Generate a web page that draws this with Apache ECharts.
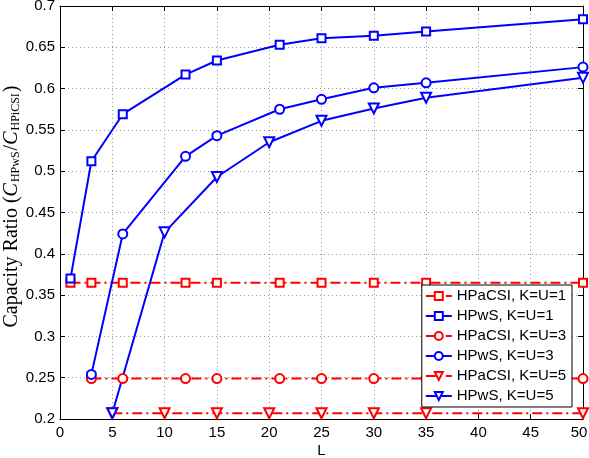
<!DOCTYPE html>
<html>
<head>
<meta charset="utf-8">
<script src="https://cdn.jsdelivr.net/npm/echarts@6/dist/echarts.min.js"></script>
<style>html,body{margin:0;padding:0;background:#fff;}#c{width:589px;height:458px;}</style>
</head>
<body>
<div id="c"></div>
<script>
const L1 = [1, 3, 6, 12, 15, 21, 25, 30, 35, 50];
const hpacsi1 = [0.365, 0.365, 0.365, 0.365, 0.365, 0.365, 0.365, 0.365, 0.365, 0.365];
const hpws1 = [0.370, 0.512, 0.569, 0.617, 0.634, 0.653, 0.661, 0.664, 0.669, 0.684];
const L3 = [3, 6, 12, 15, 21, 25, 30, 35, 50];
const hpacsi3 = [0.249, 0.249, 0.249, 0.249, 0.249, 0.249, 0.249, 0.249, 0.249];
const hpws3 = [0.254, 0.424, 0.518, 0.543, 0.575, 0.587, 0.601, 0.607, 0.626];
const L5 = [5, 10, 15, 20, 25, 30, 35, 50];
const hpacsi5 = [0.207, 0.207, 0.207, 0.207, 0.207, 0.207, 0.207, 0.207];
const hpws5 = [0.207, 0.426, 0.493, 0.535, 0.561, 0.576, 0.589, 0.613];
const names = ['HPaCSI, K=U=1', 'HPwS, K=U=1', 'HPaCSI, K=U=3', 'HPwS, K=U=3', 'HPaCSI, K=U=5', 'HPwS, K=U=5'];
const xTicks = [0, 5, 10, 15, 20, 25, 30, 35, 40, 45, 50];
const yTicks = [0.2, 0.25, 0.3, 0.35, 0.4, 0.45, 0.5, 0.55, 0.6, 0.65, 0.7];

function pairs(xs, ys) { return xs.map((x, i) => [x, ys[i]]); }

const RED = '#ff0000', BLUE = '#0000ff';
const dashDot = [10, 4, 2, 4];

function mk(name, xs, ys, color, symbol, size, dashed, rot) {
  return {
    name: name, type: 'line', data: pairs(xs, ys),
    symbol: symbol, symbolSize: size, symbolRotate: rot || 0, showSymbol: true,
    itemStyle: { color: color, borderColor: color, borderWidth: 2 },
    lineStyle: { color: color, width: 2, type: dashed ? dashDot : 'solid' },
    animation: false
  };
}

const chart = echarts.init(document.getElementById('c'));
const axisFont = { fontFamily: 'Liberation Sans', fontSize: 15, color: '#000' };
chart.setOption({
  backgroundColor: '#fff',
  animation: false,
  grid: { left: 60, right: 6, top: 6, bottom: 39, containLabel: false, outerBoundsMode: 'none' },
  legend: {
    orient: 'vertical', right: 17, top: 285,
    backgroundColor: '#fff', borderColor: '#000', borderWidth: 1,
    padding: [3, 6, 3, 3], itemGap: 4, itemWidth: 26, itemHeight: 10,
    textStyle: { fontFamily: 'Liberation Sans', fontSize: 15, color: '#000', lineHeight: 16 },
    data: names
  },
  xAxis: [{
    type: 'value', min: 0, max: 50, interval: 5,
    name: 'L', nameLocation: 'middle', nameGap: 24, nameMoveOverlap: false,
    nameTextStyle: axisFont,
    axisLine: { show: true, onZero: false, lineStyle: { color: '#000', width: 1 } },
    axisTick: { show: true, inside: true, length: 5, lineStyle: { color: '#000' } },
    axisLabel: Object.assign({
      margin: 6,
      formatter: v => v === 50 ? '{m|50}' : String(v),
      rich: { m: { fontFamily: 'Liberation Sans', fontSize: 15, color: '#000', padding: [0, 8, 0, 0] } }
    }, axisFont),
    splitLine: { show: true, lineStyle: { color: '#999', type: [1, 3], width: 1 } }
  }, {
    type: 'value', min: 0, max: 50, interval: 5, position: 'top',
    axisLine: { show: true, onZero: false, lineStyle: { color: '#000', width: 1 } },
    axisTick: { show: true, inside: true, length: 5, lineStyle: { color: '#000' } },
    axisLabel: { show: false }, splitLine: { show: false }
  }],
  yAxis: [{
    type: 'value', min: 0.2, max: 0.7, interval: 0.05,
    name: '{a|Capacity Ratio (}{i|C}{s|HPwS}{a|/}{i|C}{s|HPiCSI}{a|)}',
    nameLocation: 'middle', nameRotate: 90, nameGap: 38, nameMoveOverlap: false,
    nameTextStyle: {
      padding: [0, 0, 0, 12],
      rich: {
        a: { fontFamily: 'Liberation Serif', fontSize: 20, color: '#000' },
        i: { fontFamily: 'Liberation Serif', fontSize: 20, fontStyle: 'italic', color: '#000' },
        s: { fontFamily: 'Liberation Serif', fontSize: 12, color: '#000', padding: [8, 1, 0, 1] }
      }
    },
    axisLine: { show: true, onZero: false, lineStyle: { color: '#000', width: 1 } },
    axisTick: { show: true, inside: true, length: 5, lineStyle: { color: '#000' } },
    axisLabel: Object.assign({ margin: 5, formatter: v => String(+v.toFixed(2)) }, axisFont),
    splitLine: { show: true, lineStyle: { color: '#999', type: [1, 3], width: 1 } }
  }, {
    type: 'value', min: 0.2, max: 0.7, interval: 0.05, position: 'right',
    axisLine: { show: true, onZero: false, lineStyle: { color: '#000', width: 1 } },
    axisTick: { show: true, inside: true, length: 5, lineStyle: { color: '#000' } },
    axisLabel: { show: false }, splitLine: { show: false }
  }],
  series: [
    mk(names[0], L1, hpacsi1, RED, 'emptyRect', 8, true),
    mk(names[1], L1, hpws1, BLUE, 'emptyRect', 8, false),
    mk(names[2], L3, hpacsi3, RED, 'emptyCircle', 9, true),
    mk(names[3], L3, hpws3, BLUE, 'emptyCircle', 9, false),
    mk(names[4], L5, hpacsi5, RED, 'emptyTriangle', 10, true, 180),
    mk(names[5], L5, hpws5, BLUE, 'emptyTriangle', 10, false, 180)
  ]
});
</script>
</body>
</html>
